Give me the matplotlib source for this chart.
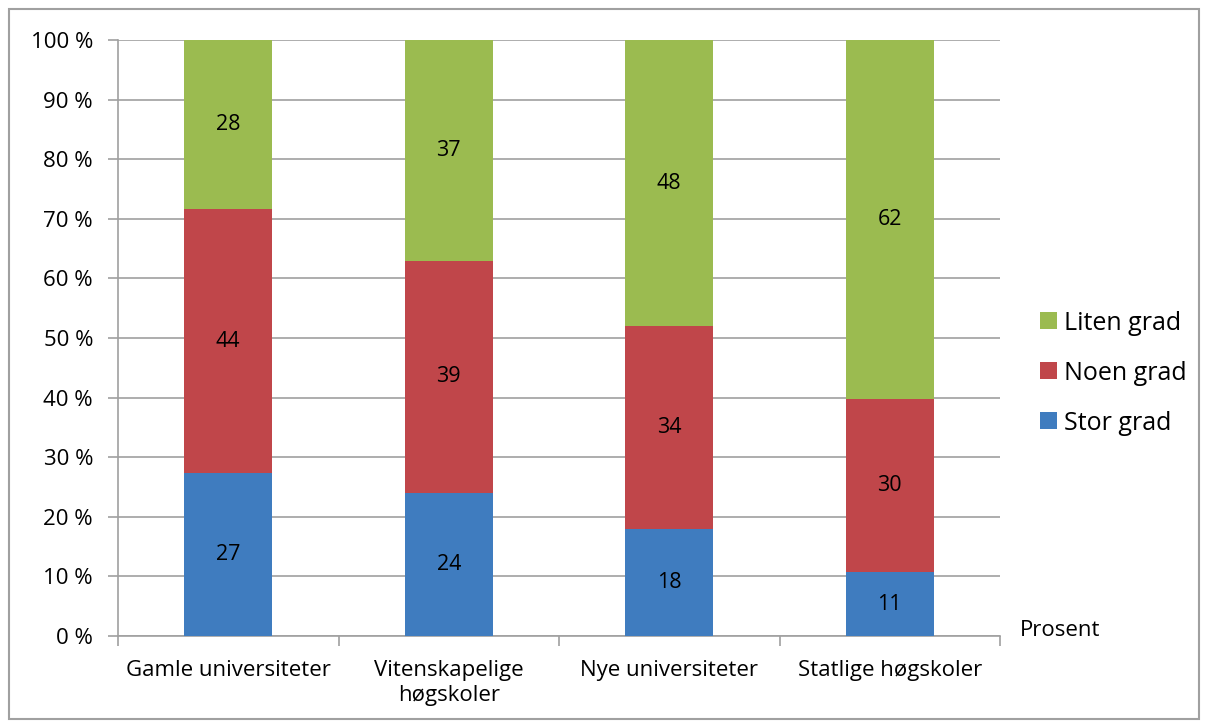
import numpy as np
import matplotlib.pyplot as plt
from matplotlib.patches import Rectangle

plt.rcParams['font.family'] = ['Open Sans', 'DejaVu Sans']

categories = ["Gamle universiteter", "Vitenskapelige\nhøgskoler",
              "Nye universiteter", "Statlige høgskoler"]
stor = [27, 24, 18, 11]
noen = [44, 39, 34, 30]
liten = [28, 37, 48, 62]
series_names = ["Stor grad", "Noen grad", "Liten grad"]
colors = ["#3F7CBF", "#C0464A", "#9BBB50"]

raw = np.array([stor, noen, liten], dtype=float)
pct = raw / raw.sum(axis=0) * 100

fig = plt.figure(figsize=(12.08, 7.28), dpi=100)
fig.patches.append(Rectangle((9 / 1208, 9 / 728), 1 - 18 / 1208, 1 - 18 / 728,
                             transform=fig.transFigure, fill=False,
                             edgecolor="#A0A0A0", linewidth=1.5))
ax = fig.add_axes([118 / 1208, 92 / 728, 882 / 1208, 596 / 728])

x = np.arange(len(categories))
bottom = np.zeros(len(categories))
handles = []
for i in range(3):
    b = ax.bar(x, pct[i], 0.4, bottom=bottom, color=colors[i], label=series_names[i], zorder=3)
    handles.append(b)
    for j in range(len(categories)):
        ax.text(x[j], bottom[j] + pct[i][j] / 2, str(int(raw[i][j])),
                ha="center", va="center", fontsize=15.5, color="black", zorder=4)
    bottom += pct[i]

ax.set_xlim(-0.5, 3.5)
ax.set_ylim(0, 100)
ax.set_yticks(np.arange(0, 101, 10))
ax.set_yticklabels([f"{v} %" for v in range(0, 101, 10)], fontsize=16)
ax.set_xticks(x)
ax.set_xticklabels(categories, fontsize=16, linespacing=1.25)
ax.set_xticks(np.arange(-0.5, 3.6, 1), minor=True)
ax.tick_params(axis="x", which="major", length=0, pad=17)
ax.tick_params(axis="x", which="minor", length=7, color="#A0A0A0", width=1.2)
ax.tick_params(axis="y", length=7, color="#A0A0A0", width=1.2, pad=11)
ax.yaxis.grid(True, color="#A0A0A0", linewidth=1.2, zorder=0)
for s in ["top", "right"]:
    ax.spines[s].set_visible(False)
for s in ["left", "bottom"]:
    ax.spines[s].set_color("#A0A0A0")
    ax.spines[s].set_linewidth(1.2)

ax.legend(handles[::-1], series_names[::-1], loc="center left",
          bbox_to_anchor=(1.02, 0.441), frameon=False, fontsize=18,
          handlelength=0.66, handleheight=0.66, handletextpad=0.3, labelspacing=1.0)
fig.text(1020 / 1208, 1 - 630 / 728, "Prosent", fontsize=16, va="center", ha="left")

fig.savefig("out.png", dpi=100)
